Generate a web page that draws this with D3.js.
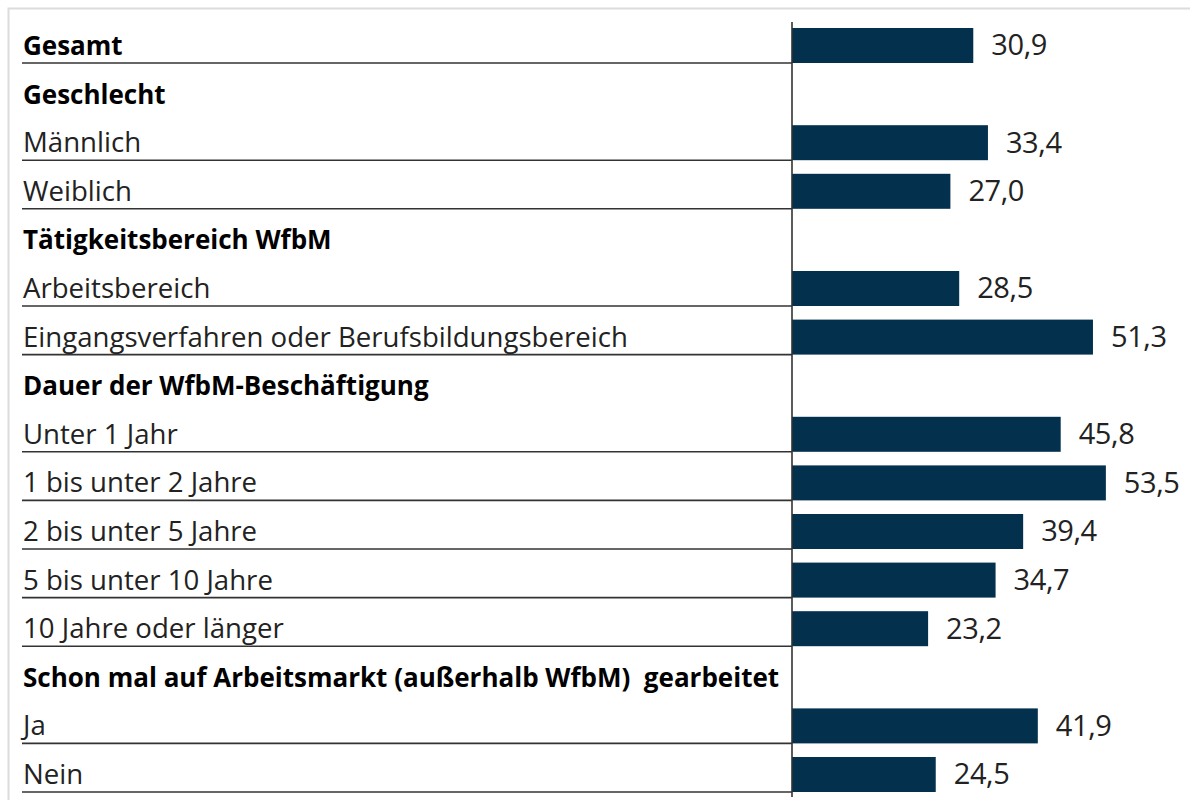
<!DOCTYPE html>
<html>
<head>
<meta charset="utf-8">
<script src="https://cdn.jsdelivr.net/npm/d3@7"></script>
<style>
  body { margin: 0; background: #fff; }
  svg { display: block; font-family: "Open Sans", Lato, sans-serif; }
</style>
</head>
<body>
<svg id="chart" width="1190" height="800"></svg>
<script>
const labels = [
  "Gesamt",
  "Geschlecht",
  "Männlich",
  "Weiblich",
  "Tätigkeitsbereich WfbM",
  "Arbeitsbereich",
  "Eingangsverfahren oder Berufsbildungsbereich",
  "Dauer der WfbM-Beschäftigung",
  "Unter 1 Jahr",
  "1 bis unter 2 Jahre",
  "2 bis unter 5 Jahre",
  "5 bis unter 10 Jahre",
  "10 Jahre oder länger",
  "Schon mal auf Arbeitsmarkt (außerhalb WfbM)  gearbeitet",
  "Ja",
  "Nein"
];
const values = [30.9, null, 33.4, 27.0, null, 28.5, 51.3, null, 45.8, 53.5, 39.4, 34.7, 23.2, null, 41.9, 24.5];
const boldRows = [true, true, false, false, true, false, false, true, false, false, false, false, false, true, false, false];

const svg = d3.select("#chart");
const width = 1190;
const axisX = 792;

// light frame
svg.append("rect")
  .attr("x", 8.5).attr("y", 8.5)
  .attr("width", width + 20).attr("height", 820)
  .attr("fill", "none").attr("stroke", "#dcdcdc").attr("stroke-width", 2);

const y = d3.scaleBand()
  .domain(d3.range(labels.length))
  .range([14.4, 792])
  .padding(0);

const x = d3.scaleLinear()
  .domain([0, 60])
  .range([axisX, axisX + 352]);

const fmt = v => v.toFixed(1).replace(".", ",");
const barH = 35;

const rows = svg.append("g")
  .selectAll("g")
  .data(labels.map((l, i) => ({ label: l, value: values[i], bold: boldRows[i], i })))
  .join("g")
  .attr("transform", d => `translate(0,${y(d.i)})`);

rows.append("text")
  .attr("x", 23)
  .attr("y", y.bandwidth() - 8)
  .attr("font-size", d => d.bold ? 26 : 27.6)
  .attr("font-weight", d => d.bold ? 700 : 400)
  .attr("fill", d => d.bold ? "#000" : "#222")
  .style("white-space", "pre")
  .text(d => d.label);

const withVal = rows.filter(d => d.value != null);

withVal.append("line")
  .attr("x1", 22).attr("x2", axisX)
  .attr("y1", y.bandwidth()).attr("y2", y.bandwidth())
  .attr("stroke", "#333").attr("stroke-width", 1.6);

withVal.append("rect")
  .attr("x", x(0))
  .attr("y", y.bandwidth() - barH)
  .attr("width", d => x(d.value) - x(0))
  .attr("height", barH)
  .attr("fill", "#03304c");

withVal.append("text")
  .attr("x", d => x(d.value) + 18)
  .attr("y", y.bandwidth() - barH / 2 + 10)
  .attr("font-size", 29)
  .attr("letter-spacing", -0.4)
  .attr("fill", "#222")
  .text(d => fmt(d.value));

// vertical axis line
svg.append("line")
  .attr("x1", axisX).attr("x2", axisX)
  .attr("y1", 22).attr("y2", 797)
  .attr("stroke", "#333").attr("stroke-width", 1.6);
</script>
</body>
</html>
